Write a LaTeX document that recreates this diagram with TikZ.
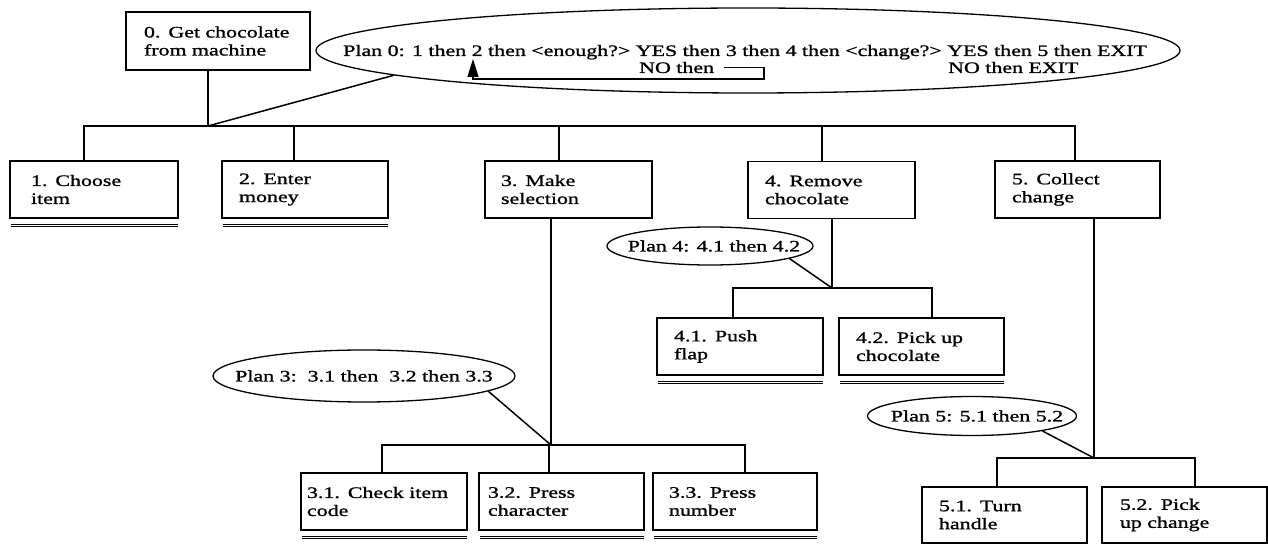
\documentclass[tikz,border=0pt]{standalone}
\usepackage{fontspec}
\setmainfont{Liberation Serif}[FakeStretch=1.37,FakeBold=1.2]
\usetikzlibrary{shapes.geometric,arrows.meta,calc}
\begin{document}
\begin{tikzpicture}[x=1bp,y=-1bp,
  font=\fontsize{16bp}{18bp}\selectfont,
  task/.style={draw, line width=1.4bp, align=left, inner ysep=0pt, minimum height=57bp},
  plan/.style={draw, ellipse, line width=1.3bp, inner sep=0pt},
  plantext/.style={anchor=base west, inner sep=0pt},
  link/.style={line width=1.5bp},
  uline/.style={line width=1bp, double, double distance=0.8bp},
  ]
\useasboundingbox (0,0) rectangle (1268,546);

% level 0
\node[task, minimum height=58bp, text width=148bp, inner xsep=18bp] (b0) at (218,41) {0. Get chocolate\\from machine};
\node[plan, minimum width=864bp, minimum height=85bp] (p0) at (748,50.5) {};
\node[plantext] (l0a) at (343,56) {Plan 0: 1 then 2 then <enough?> YES then 3 then 4 then <change?> YES then 5 then EXIT};
\node[plantext] (l0b) at (639,73) {NO then};
\node[plantext] (l0c) at (948,73) {NO then EXIT};

% level 1
\node[task, text width=126bp, inner xsep=21bp] (b1) at (94,189.5) {1. Choose\\item};
\node[task, text width=132bp, inner xsep=17bp] (b2) at (305,189.5) {2. Enter\\money};
\node[task, text width=135bp, inner xsep=16bp] (b3) at (568.5,189.5) {3. Make\\selection};
\node[task, text width=133bp, inner xsep=17bp] (b4) at (831.5,190) {4. Remove\\chocolate};
\node[task, text width=131bp, inner xsep=17bp] (b5) at (1077.5,189.5) {5. Collect\\change};

% plan 3
\node[plan, minimum width=302bp, minimum height=52bp, label=center:{Plan 3:\ \ 3.1 then\ \ 3.2 then 3.3}] (p3) at (364,376) {};
\node[task, text width=154bp, inner xsep=6bp] (b31) at (384,501.5) {3.1. Check item\\code};
\node[task, text width=147bp, inner xsep=9bp] (b32) at (561.5,501.5) {3.2. Press\\character};
\node[task, text width=132bp, inner xsep=16bp] (b33) at (735,501.5) {3.3. Press\\number};

% plan 4
\node[plan, minimum width=206bp, minimum height=38bp, label={[xshift=4bp]center:Plan 4: 4.1 then 4.2}] (p4) at (710,246) {};
\node[task, text width=132bp, inner xsep=17bp] (b41) at (740,346.5) {4.1. Push\\flap};
\node[task, text width=131bp, inner xsep=17bp] (b42) at (921.5,346.5) {4.2. Pick up\\chocolate};

% plan 5
\node[plan, minimum width=209bp, minimum height=39bp, label={[xshift=5bp]center:Plan 5: 5.1 then 5.2}] (p5) at (972,416) {};
\node[task, minimum height=56bp, text width=131bp, inner xsep=17bp] (b51) at (1004.5,515) {5.1. Turn\\handle};
\node[task, minimum height=56bp, text width=129bp, inner xsep=18bp] (b52) at (1184.5,515) {5.2. Pick\\up change};

% loop arrow in plan 0
\coordinate (r1) at (764,79);
\coordinate (r2) at (473,79);
\coordinate (tip) at (473,59);
\draw[line width=1.3bp, -{Triangle[length=18bp,width=11bp]}] ([xshift=10bp]l0b.east) -| (r1) -- (r2) -- (tip);

% tree level 0
\coordinate (j0) at (208,126);
\coordinate (d1) at (84,126);
\coordinate (d2) at (294,126);
\coordinate (d3) at (559,126);
\coordinate (d4) at (822,126);
\coordinate (d5) at (1075,126);
\draw[link] (j0 |- b0.south) -- (j0);
\draw[link] (d1 |- b1.north) -- (d1) -- (d5) -- (d5 |- b5.north);
\foreach \d/\b in {d2/b2, d3/b3, d4/b4} \draw[link] (\d) -- (\d |- \b.north);
\draw[link] (p0.184) -- (j0);

% tree under 3
\coordinate (j3) at (551,445);
\coordinate (e1) at (382,445);
\coordinate (e2) at (549,445);
\coordinate (e3) at (745,445);
\draw[link] (j3 |- b3.south) -- (j3);
\draw[link] (e1 |- b31.north) -- (e1) -- (e3) -- (e3 |- b33.north);
\draw[link] (e2) -- (e2 |- b32.north);
\draw[link] (p3.-7) -- (j3);

% tree under 4
\coordinate (j4) at (832,288);
\coordinate (f1) at (733,288);
\coordinate (f2) at (932,288);
\draw[link] (j4 |- b4.south) -- (j4);
\draw[link] (f1 |- b41.north) -- (f1) -- (f2) -- (f2 |- b42.north);
\draw[link] (p4.-9) -- (j4);

% tree under 5
\coordinate (j5) at (1094,458);
\coordinate (g1) at (997,458);
\coordinate (g2) at (1195,458);
\draw[link] (j5 |- b5.south) -- (j5);
\draw[link] (g1 |- b51.north) -- (g1) -- (g2) -- (g2 |- b52.north);
\draw[link] (p5.-12) -- (j5);

% underlines
\foreach \b in {b1,b2,b31,b32,b33,b41,b42}
  \draw[uline] ($(\b.south west)+(2,7)$) -- ($(\b.south east)+(-1,7)$);
\end{tikzpicture}
\end{document}
